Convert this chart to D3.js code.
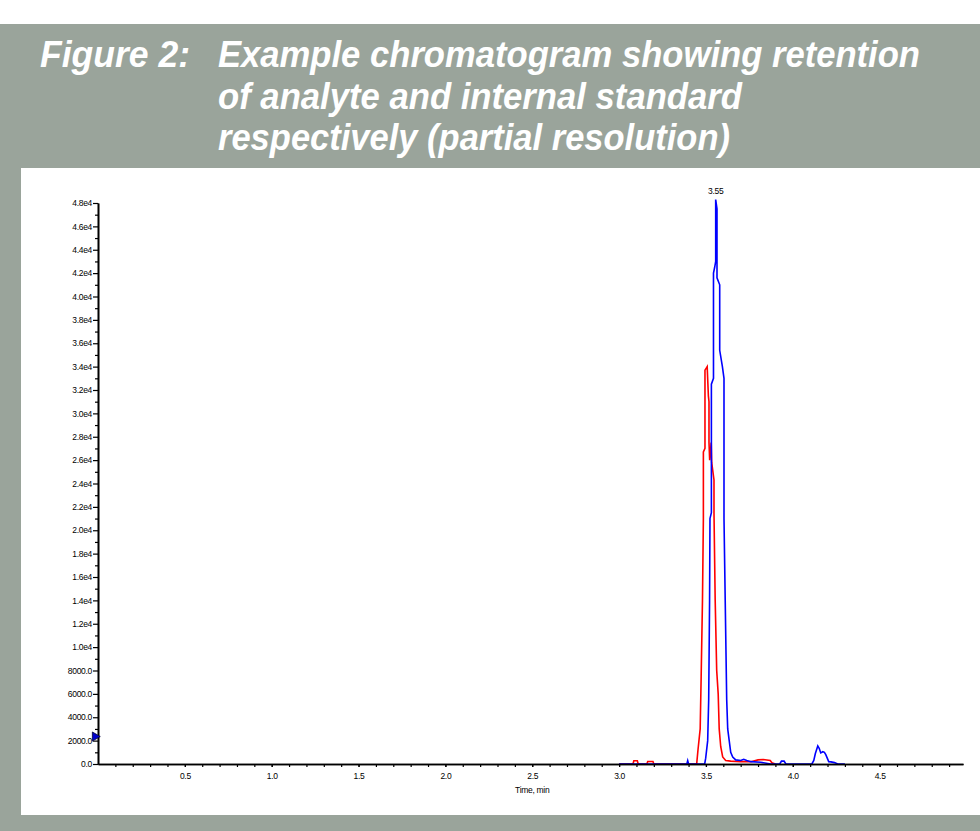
<!DOCTYPE html>
<html><head><meta charset="utf-8">
<script src="https://cdn.jsdelivr.net/npm/d3@7"></script>
<style>html,body{margin:0;padding:0;background:#fff;} svg{display:block;}</style>
</head><body><svg id="c" width="980" height="831"></svg>
<script>
// ---------- data ----------
const titleLabel = "Figure 2:";
const titleLines = [
  "Example chromatogram showing retention",
  "of analyte and internal standard",
  "respectively (partial resolution)"
];
const xLabel = "Time, min";
const xTicks = [0.5, 1.0, 1.5, 2.0, 2.5, 3.0, 3.5, 4.0, 4.5];
const xTickLabels = ["0.5", "1.0", "1.5", "2.0", "2.5", "3.0", "3.5", "4.0", "4.5"];
const yTicks = [0, 2000, 4000, 6000, 8000, 10000, 12000, 14000, 16000, 18000, 20000, 22000, 24000,
  26000, 28000, 30000, 32000, 34000, 36000, 38000, 40000, 42000, 44000, 46000, 48000];
const yTickLabels = ["0.0", "2000.0", "4000.0", "6000.0", "8000.0", "1.0e4", "1.2e4", "1.4e4", "1.6e4",
  "1.8e4", "2.0e4", "2.2e4", "2.4e4", "2.6e4", "2.8e4", "3.0e4", "3.2e4", "3.4e4", "3.6e4", "3.8e4",
  "4.0e4", "4.2e4", "4.4e4", "4.6e4", "4.8e4"];

// blue trace (peak at 3.55)
const blueTime = [3.00, 3.390, 3.395, 3.400, 3.480, 3.4928, 3.4986, 3.5101, 3.5159, 3.5210, 3.5233,
  3.5314, 3.5314, 3.5435, 3.5435, 3.5504, 3.5562, 3.5562, 3.5637, 3.5637, 3.5793, 3.5793, 3.5948,
  3.6040, 3.6040, 3.6110, 3.6196, 3.6254, 3.6340, 3.6427, 3.6542, 3.6715, 3.7000, 3.7176, 3.7350,
  3.7580, 3.8150, 3.8730, 3.925, 3.935, 3.950, 3.960, 4.110, 4.121, 4.130, 4.144, 4.152, 4.161,
  4.173, 4.182, 4.190, 4.207, 4.220, 4.240, 4.259, 4.300];
const blueIntensity = [0, 0, 280, 0, 0, 0, 500, 2000, 5500, 14000, 21000,
  21500, 32500, 33000, 42000, 42500, 43000, 48300, 47500, 41600, 41000, 35400, 34000,
  33000, 21000, 14000, 5500, 3000, 2000, 1000, 600, 350, 300, 400, 300,
  200, 150, 0, 0, 250, 250, 0, 0, 300, 900, 1550, 1350, 950,
  1050, 1000, 800, 200, 180, 120, 0, 0];

// red trace (peak at ~3.50)
const redTime = [3.00, 3.080, 3.085, 3.105, 3.110, 3.160, 3.165, 3.195, 3.200, 3.4467, 3.4542,
  3.4669, 3.4726, 3.4801, 3.4853, 3.4853, 3.4945, 3.4945, 3.5072, 3.5141, 3.5176, 3.5176, 3.5216,
  3.5303, 3.5331, 3.5464, 3.5464, 3.5533, 3.5620, 3.5706, 3.5764, 3.5850, 3.5965, 3.6138, 3.6427,
  3.7000, 3.7600, 3.8000, 3.8300, 3.8700, 3.8800, 3.9000];
const redIntensity = [0, 0, 280, 280, 0, 0, 220, 220, 0, 0, 1200,
  3000, 7500, 14000, 21000, 26700, 27000, 33700, 34000, 31500, 31000, 27500, 26000,
  27500, 25800, 24300, 21500, 14000, 8000, 6000, 3000, 1500, 600, 300, 250,
  200, 200, 350, 380, 300, 100, 0];

const markerTime = [0];
const markerValue = [2350];
const peakLabel = "3.55";
const peakTime = 3.556, peakValue = 48300;

// ---------- drawing ----------
const svg = d3.select("#c");
const W = 980, H = 831;
svg.append("rect").attr("width", W).attr("height", H).attr("fill", "#ffffff");
svg.append("rect").attr("x", 0).attr("y", 24).attr("width", W).attr("height", H - 24).attr("fill", "#9aa49b");
svg.append("rect").attr("x", 21).attr("y", 168).attr("width", W - 21).attr("height", 647).attr("fill", "#ffffff");

// title
const tg = svg.append("g").attr("fill", "#ffffff")
  .style("font-family", "'Liberation Sans', Arial, sans-serif")
  .style("font-weight", "bold").style("font-style", "italic").style("font-size", "36px");
tg.append("text").attr("x", 40).attr("y", 67).attr("textLength", 150)
  .attr("lengthAdjust", "spacingAndGlyphs").text(titleLabel);
const lineW = [702, 524, 512];
const lineY = [67, 109, 150];
titleLines.forEach((t, i) => {
  tg.append("text").attr("x", 218).attr("y", lineY[i]).attr("textLength", lineW[i])
    .attr("lengthAdjust", "spacingAndGlyphs").text(t);
});

// scales
const x = d3.scaleLinear().domain([0, 4.98]).range([98, 963]);
const y = d3.scaleLinear().domain([0, 48000]).range([764, 203]);

const line = d3.line().x(d => x(d[0])).y(d => y(d[1]));
const redData = redTime.map((t, i) => [t, redIntensity[i]]);
const blueData = blueTime.map((t, i) => [t, blueIntensity[i]]);

svg.append("path").datum(redData).attr("d", line).attr("fill", "none")
  .attr("stroke", "#ff0000").attr("stroke-width", 1.6);
svg.append("path").datum(blueData).attr("d", line).attr("fill", "none")
  .attr("stroke", "#0000ff").attr("stroke-width", 1.6);

// axes
const fontFam = "'Liberation Sans', Arial, sans-serif";
const yAxis = d3.axisLeft(y).tickValues(yTicks).tickFormat((d, i) => yTickLabels[i])
  .tickSize(5).tickSizeOuter(0).tickPadding(1);
const yMinor = d3.axisLeft(y).tickValues(d3.range(1000, 48000, 2000)).tickFormat("").tickSize(3).tickSizeOuter(0);
const xAxis = d3.axisBottom(x).tickValues(xTicks).tickFormat((d, i) => xTickLabels[i])
  .tickSize(3).tickSizeOuter(0).tickPadding(6);
const xMinor = d3.axisBottom(x).tickValues(d3.range(1, 50).map(k => k / 10)).tickFormat("").tickSize(3).tickSizeOuter(0);

function styleAxis(g) {
  g.select(".domain").attr("stroke", "#000").attr("stroke-width", 1.6);
  g.selectAll(".tick line").attr("stroke", "#000").attr("stroke-width", 1.2);
  g.selectAll("text").attr("fill", "#000").style("font-family", fontFam)
    .style("font-size", "8.5px").style("letter-spacing", "-0.3px");
}
svg.append("g").attr("transform", `translate(0,${y(0)})`).call(xMinor).call(styleAxis);
svg.append("g").attr("transform", `translate(0,${y(0)})`).call(xAxis).call(styleAxis);
svg.append("g").attr("transform", `translate(${x(0)},0)`).call(yMinor).call(styleAxis);
svg.append("g").attr("transform", `translate(${x(0)},0)`).call(yAxis).call(styleAxis);

// axis title
svg.append("text").attr("x", x(2.5)).attr("y", y(0) + 29).attr("text-anchor", "middle")
  .style("font-family", fontFam).style("font-size", "8.5px").style("letter-spacing", "-0.3px")
  .attr("fill", "#000").text(xLabel);

// peak label
svg.append("text").attr("x", x(peakTime)).attr("y", y(peakValue) - 5).attr("text-anchor", "middle")
  .style("font-family", fontFam).style("font-size", "8.5px").style("letter-spacing", "-0.3px")
  .attr("fill", "#000").text(peakLabel);

// marker at y-axis
markerTime.forEach((t, i) => {
  svg.append("path").attr("d", d3.symbol(d3.symbolTriangle, 36)())
    .attr("transform", `translate(${x(t) - 3},${y(markerValue[i])}) rotate(90)`)
    .attr("fill", "#0000cc").attr("stroke", "#000033").attr("stroke-width", 0.8);
});
</script></body></html>
